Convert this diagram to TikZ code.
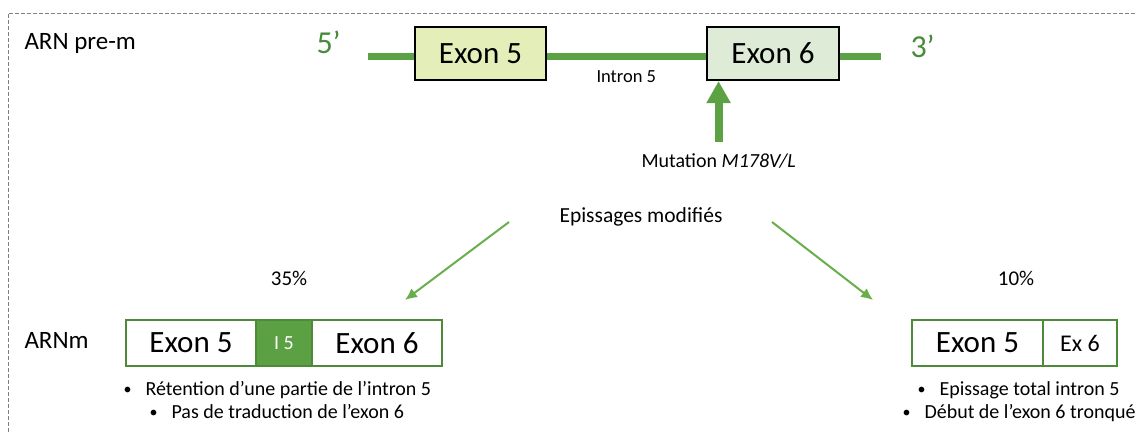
\documentclass[tikz,border=0pt]{standalone}
\usepackage{fontspec}
\setmainfont{Carlito}
\usetikzlibrary{arrows.meta,positioning}

\definecolor{stemgreen}{HTML}{5DA145}
\definecolor{endgreen}{HTML}{478B3B}
\definecolor{boxgreen}{HTML}{4F8A3A}
\definecolor{ifill}{HTML}{5BA043}
\definecolor{splicegreen}{HTML}{6AAE4A}
\definecolor{exfivefill}{HTML}{E3EEB9}
\definecolor{exsixfill}{HTML}{DDEBD7}
\definecolor{framegray}{HTML}{808080}

\newcommand{\txtsize}[1]{\fontsize{#1pt}{#1pt}\selectfont}
\newcommand{\bul}[1]{\makebox[23pt][l]{\hspace{1pt}{\txtsize{16}\raisebox{1pt}{\textbullet}}}#1}

\begin{document}
\begin{tikzpicture}[x=1pt,y=-1pt,>=latex,line width=1pt,  % pixel grid, y going down
    lab/.style={inner sep=0pt,anchor=base west},
    exonbox/.style={draw=black,line width=2.2pt,minimum height=53pt,minimum width=131pt,inner sep=0pt,font=\txtsize{31}},
    mbox/.style={draw=boxgreen,line width=2pt,minimum height=46pt,inner sep=0pt,outer sep=0pt,fill=white},
    strand/.style={draw=stemgreen,line width=7pt},
    bigarrow/.style={draw=stemgreen,line width=8pt,-{Triangle[length=22pt,width=23pt]}},
    splice/.style={draw=splicegreen,line width=2pt,-{Latex[length=12pt,width=11pt]}},
    frame/.style={draw=framegray,line width=1pt,dash pattern=on 4pt off 2pt}]
    \useasboundingbox (0,0) rectangle (1137,432);

    % dashed frame, only top and left sides show
    \draw[frame] (8,432) -- (8,13) -- (1137,13);

    % pre-mRNA strand with the two exons
    \coordinate (s5) at (368,56);
    \coordinate (s3) at (881,56);
    \draw[strand] (s5) -- (s3);
    \node[exonbox,fill=exfivefill] (pex5) at (480.5,53.5) {Exon 5};
    \node[exonbox,fill=exsixfill,minimum width=132pt] (pex6) at (773,53.5) {Exon 6};
    \node[lab,font=\txtsize{25}] (pre) at (24,49) {ARN pre-m};
    \node[lab,font=\txtsize{32},text=endgreen] (five) at (316,53) {5’};
    \node[lab,font=\txtsize{32},text=endgreen] (three) at (910,57) {3’};
    \node[lab,font=\txtsize{18.5}] (intron) at (596,82) {Intron 5};

    % mutation pointing at exon 6
    \node[lab,font=\txtsize{20}] (mut) at (641,167) {Mutation \textit{M178V/L}};
    \draw[bigarrow] ([yshift=11pt]mut.north) -- (mut.north |- pex6.south);

    % the two splicing outcomes
    \node[lab,font=\txtsize{21.5}] (epi) at (559,222) {Epissages modifiés};
    \coordinate (tipL) at (405,300);
    \coordinate (tipR) at (873,300);
    \draw[splice] ([xshift=-50pt]epi.base west) -- (tipL);
    \draw[splice] ([xshift=49pt]epi.base east) -- (tipR);
    \node[inner sep=0pt,anchor=base,font=\txtsize{21}] (pcL) at (289,285) {35\%};
    \node[inner sep=0pt,anchor=base,font=\txtsize{21}] (pcR) at (1016,285) {10\%};

    % mRNA, left: part of intron 5 kept
    \node[lab,font=\txtsize{25}] (arnm) at (24,348) {ARNm};
    \node[mbox,minimum width=130pt,font=\txtsize{31}] (mL5) at (191,343) {Exon 5};
    \node[mbox,minimum width=56pt,fill=ifill,text=white,font=\txtsize{20},right=0pt of mL5] (mLi) {I 5};
    \node[mbox,minimum width=130pt,font=\txtsize{31},right=0pt of mLi] (mL6) {Exon 6};
    \node[lab,font=\txtsize{20}] (bL1) at (122,395) {\bul{Rétention d’une partie de l’intron 5}};
    \node[lab,font=\txtsize{20}] (bL2) at (148,418) {\bul{Pas de traduction de l’exon 6}};

    % mRNA, right: exon 6 cut short
    \node[mbox,minimum width=131pt,font=\txtsize{31}] (mR5) at (977.5,343) {Exon 5};
    \node[mbox,minimum width=74pt,font=\txtsize{24},right=0pt of mR5] (mR6) {Ex 6};
    \node[lab,font=\txtsize{20}] (bR1) at (916,395) {\bul{Epissage total intron 5}};
    \node[lab,font=\txtsize{20}] (bR2) at (901,418) {\bul{Début de l’exon 6 tronqué}};
\end{tikzpicture}
\end{document}
